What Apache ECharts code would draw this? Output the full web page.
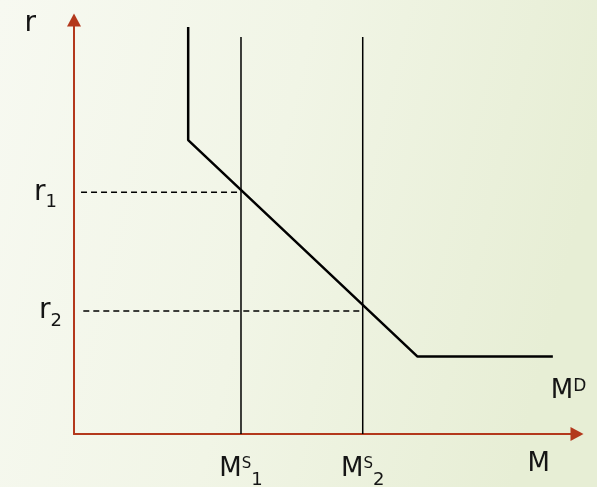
<!DOCTYPE html>
<html>
<head>
<meta charset="utf-8">
<script src="https://cdn.jsdelivr.net/npm/echarts@6/dist/echarts.min.js"></script>
<style>
html,body{margin:0;padding:0;}
#chart{width:597px;height:487px;}
</style>
</head>
<body>
<div id="chart"></div>
<script>
// ---- data (axis units 0..100) ----
const moneyDemand = [[22.7, 98.3], [22.7, 71.0], [68.3, 18.7], [95.2, 18.7]];
const moneySupply1 = [[33.2, 0], [33.2, 95.9]];
const moneySupply2 = [[57.4, 0], [57.4, 95.9]];
const rate1Guide = [[1.4, 58.4], [33.2, 58.4]];
const rate2Guide = [[1.85, 29.7], [57.4, 29.7]];
const rateTickValues = [58.4, 29.7];
const rateTickLabels = ['1', '2'];
const supplyTickValues = [33.2, 57.4];
const supplyTickLabels = ['1', '2'];

const FONT = 'DejaVu Sans';
const AXIS_COLOR = '#b3381c';
const TXT = '#151515';

const chart = echarts.init(document.getElementById('chart'));

function idx(arr, v) {
  let best = 0;
  arr.forEach((a, i) => { if (Math.abs(a - v) < Math.abs(arr[best] - v)) best = i; });
  return best;
}

// rich styles: every token has the same total height (40) so padding sets its vertical offset
const richM = {
  m: { fontFamily: FONT, fontSize: 26, color: TXT, lineHeight: 26, padding: [7, 0, 7, 0] },
  sup: { fontFamily: FONT, fontSize: 15, color: TXT, lineHeight: 15, padding: [8, 0, 17, 0] },
  sub: { fontFamily: FONT, fontSize: 18, color: TXT, lineHeight: 18, padding: [22, 0, 0, 0] }
};

const option = {
  backgroundColor: {
    type: 'linear', x: 0, y: 0, x2: 1, y2: 0.3,
    colorStops: [
      { offset: 0, color: '#f7f9f1' },
      { offset: 0.5, color: '#f1f5e6' },
      { offset: 1, color: '#e7eed5' }
    ]
  },
  animation: false,
  grid: { left: 74, right: 20, top: 20, bottom: 53, containLabel: false, outerBoundsMode: 'none' },
  xAxis: {
    type: 'value', min: 0, max: 100,
    splitLine: { show: false },
    axisTick: { show: false },
    axisLine: {
      show: true, onZero: false,
      lineStyle: { color: AXIS_COLOR, width: 2 },
      symbol: ['none', 'triangle'], symbolSize: [14, 13]
    },
    name: 'M',
    nameLocation: 'end',
    nameGap: -27,
    nameTextStyle: {
      fontFamily: FONT, fontSize: 26, color: TXT,
      align: 'right', verticalAlign: 'top', padding: [17, 0, 0, 0]
    },
    axisLabel: {
      customValues: supplyTickValues,
      margin: 22,
      fontFamily: FONT,
      color: TXT,
      formatter: v => '{m|M}{sup|S}{sub|' + supplyTickLabels[idx(supplyTickValues, v)] + '}',
      rich: richM
    }
  },
  yAxis: {
    type: 'value', min: 0, max: 100,
    splitLine: { show: false },
    axisTick: { show: false },
    axisLine: {
      show: true, onZero: false,
      lineStyle: { color: AXIS_COLOR, width: 2 },
      symbol: ['none', 'triangle'], symbolSize: [14, 13]
    },
    name: 'r',
    nameLocation: 'end',
    nameGap: -4,
    nameTextStyle: {
      fontFamily: FONT, fontSize: 28, color: TXT,
      align: 'right', verticalAlign: 'middle', padding: [0, 38, 0, 0]
    },
    axisLabel: {
      customValues: rateTickValues,
      margin: 12,
      fontFamily: FONT,
      color: TXT,
      formatter: v => {
        const i = idx(rateTickValues, v);
        return '{r|r}{sub' + i + '|' + rateTickLabels[i] + '}';
      },
      rich: {
        r: { fontFamily: FONT, fontSize: 28, color: TXT, lineHeight: 28, padding: [6, 0, 6, 0] },
        sub0: { fontFamily: FONT, fontSize: 18, color: TXT, lineHeight: 18, padding: [21, 5, 1, 0] },
        sub1: { fontFamily: FONT, fontSize: 18, color: TXT, lineHeight: 18, padding: [21, 0, 1, 0] }
      }
    }
  },
  series: [
    {
      type: 'line', name: 'MD', data: moneyDemand, symbol: 'none',
      lineStyle: { color: '#000', width: 2.5 },
      endLabel: {
        show: true,
        formatter: '{m|M}{sup|D}',
        offset: [-10, 35],
        rich: {
          m: { fontFamily: FONT, fontSize: 26, color: TXT, lineHeight: 26, padding: [7, 0, 7, 0] },
          sup: { fontFamily: FONT, fontSize: 17, color: TXT, lineHeight: 17, padding: [6.5, 0, 16.5, 0] }
        }
      }
    },
    { type: 'line', data: moneySupply1, symbol: 'none', lineStyle: { color: '#000', width: 1.5 } },
    { type: 'line', data: moneySupply2, symbol: 'none', lineStyle: { color: '#000', width: 1.5 } },
    { type: 'line', data: rate1Guide, symbol: 'none', lineStyle: { color: '#000', width: 1.5, type: [6, 4] } },
    { type: 'line', data: rate2Guide, symbol: 'none', lineStyle: { color: '#000', width: 1.5, type: [6, 4] } }
  ]
};
chart.setOption(option);
</script>
</body>
</html>
